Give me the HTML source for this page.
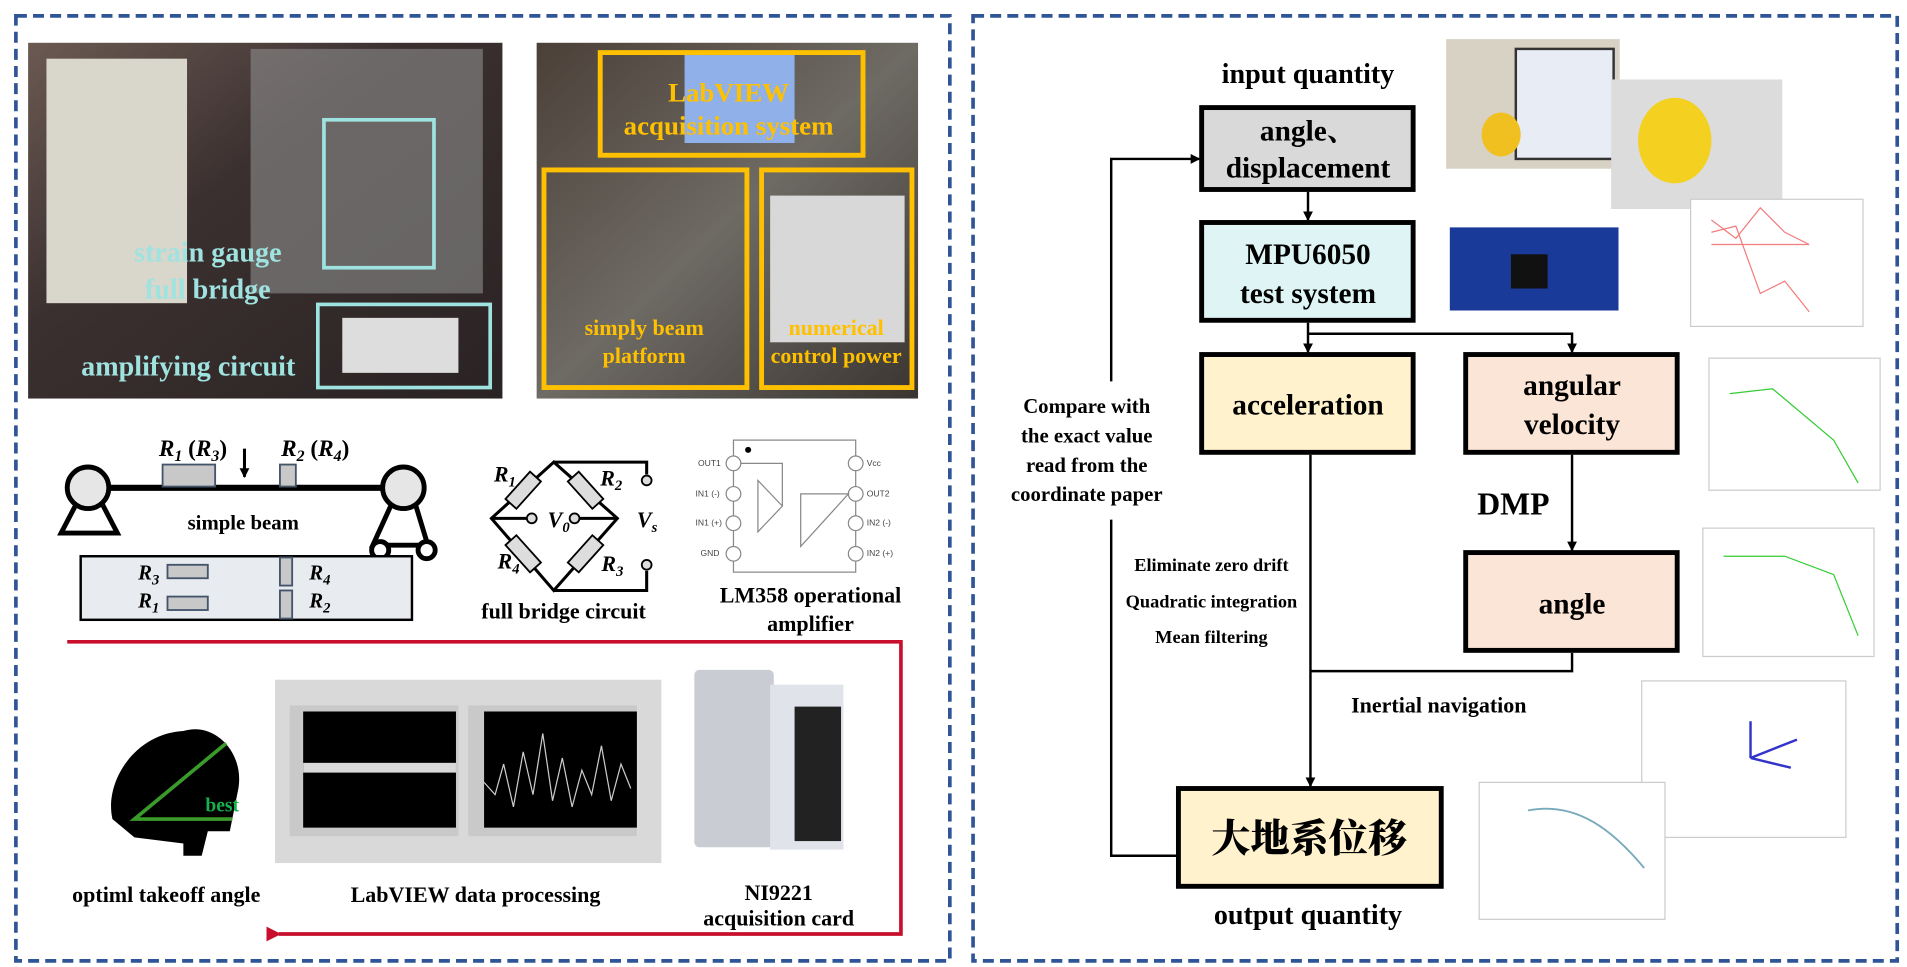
<!DOCTYPE html>
<html><head><meta charset="utf-8"><style>
html,body{margin:0;padding:0;background:#fff;overflow:hidden}
svg{display:block}
text{font-family:"Liberation Serif","Noto Serif CJK SC",serif;font-weight:bold}
</style></head><body>
<svg width="1907" height="967" viewBox="0 0 1560 791" preserveAspectRatio="none" xmlns="http://www.w3.org/2000/svg">
<defs>
<marker id="ar" markerWidth="8" markerHeight="8" refX="7" refY="4" orient="auto" markerUnits="userSpaceOnUse"><path d="M0,0 L8,4 L0,8 z" fill="#000"/></marker>
<marker id="rr" markerWidth="12" markerHeight="12" refX="2" refY="6" orient="auto" markerUnits="userSpaceOnUse"><path d="M12,0 L0,6 L12,12 z" fill="#c8102e"/></marker>
<linearGradient id="ph1" x1="0" y1="0" x2="1" y2="1"><stop offset="0" stop-color="#6b5a52"/><stop offset=".4" stop-color="#3b3030"/><stop offset="1" stop-color="#2a2323"/></linearGradient>
<linearGradient id="ph2" x1="0" y1="0" x2="1" y2="1"><stop offset="0" stop-color="#4b4038"/><stop offset=".5" stop-color="#6e6a64"/><stop offset="1" stop-color="#3a3530"/></linearGradient>
</defs>
<rect x="13" y="13" width="764" height="773" fill="none" stroke="#2f5597" stroke-width="3" stroke-dasharray="9,5"/>
<rect x="796" y="13" width="756" height="773" fill="none" stroke="#2f5597" stroke-width="3" stroke-dasharray="9,5"/>

<rect x="23" y="35" width="388" height="291" fill="url(#ph1)"/>
<rect x="38" y="48" width="115" height="200" fill="#d9d6cc"/>
<rect x="205" y="40" width="190" height="200" fill="#8e8e8e" opacity=".6"/>
<rect x="265" y="98" width="90" height="121" fill="none" stroke="#9fe3e0" stroke-width="3"/>
<rect x="260" y="249" width="141" height="68" fill="none" stroke="#9fe3e0" stroke-width="3"/>
<rect x="280" y="260" width="95" height="45" fill="#ddd"/>
<text x="170" y="214" font-size="23" fill="#9fe3e0" text-anchor="middle">strain gauge</text>
<text x="170" y="244" font-size="23" fill="#9fe3e0" text-anchor="middle">full bridge</text>
<text x="154" y="307" font-size="23" fill="#9fe3e0" text-anchor="middle">amplifying circuit</text>
<rect x="439" y="35" width="312" height="291" fill="url(#ph2)"/>
<rect x="560" y="42" width="90" height="75" fill="#8fb0e8"/>
<rect x="630" y="160" width="110" height="120" fill="#d8d8d8"/>
<rect x="491" y="43" width="215" height="84" fill="none" stroke="#ffc000" stroke-width="4"/>
<rect x="445" y="139" width="166" height="178" fill="none" stroke="#ffc000" stroke-width="4"/>
<rect x="623" y="139" width="123" height="178" fill="none" stroke="#ffc000" stroke-width="4"/>
<text x="596" y="83" font-size="22" fill="#ffc000" text-anchor="middle">LabVIEW</text>
<text x="596" y="110" font-size="22" fill="#ffc000" text-anchor="middle">acquisition system</text>
<text x="527" y="274" font-size="18" fill="#ffc000" text-anchor="middle">simply beam</text>
<text x="527" y="297" font-size="18" fill="#ffc000" text-anchor="middle">platform</text>
<text x="684" y="274" font-size="18" fill="#ffc000" text-anchor="middle">numerical</text>
<text x="684" y="297" font-size="18" fill="#ffc000" text-anchor="middle">control power</text>

<line x1="72" y1="399" x2="330" y2="399" stroke="#000" stroke-width="5"/>
<circle cx="72" cy="399" r="17" fill="#e6e6e6" stroke="#000" stroke-width="4"/>
<path d="M62,413 L50,436 L96,436 L84,413" fill="none" stroke="#000" stroke-width="4"/>
<circle cx="330" cy="399" r="17" fill="#e6e6e6" stroke="#000" stroke-width="4"/>
<path d="M320,413 L305,446 L350,446 L340,413" fill="none" stroke="#000" stroke-width="4"/>
<circle cx="311" cy="450" r="7" fill="#fff" stroke="#000" stroke-width="4"/>
<circle cx="349" cy="450" r="7" fill="#fff" stroke="#000" stroke-width="4"/>
<rect x="133" y="380" width="43" height="18" fill="#c8c8c8" stroke="#44546a" stroke-width="1.5"/>
<rect x="229" y="380" width="13" height="18" fill="#c8c8c8" stroke="#44546a" stroke-width="1.5"/>
<line x1="200" y1="367" x2="200" y2="390" stroke="#000" stroke-width="2.5" marker-end="url(#ar)"/>
<text x="130" y="373" font-size="19" font-style="italic">R<tspan font-size="13" dy="4">1</tspan><tspan dy="-4" font-style="normal"> (</tspan>R<tspan font-size="13" dy="4">3</tspan><tspan dy="-4" font-style="normal">)</tspan></text>
<text x="230" y="373" font-size="19" font-style="italic">R<tspan font-size="13" dy="4">2</tspan><tspan dy="-4" font-style="normal">  (</tspan>R<tspan font-size="13" dy="4">4</tspan><tspan dy="-4" font-style="normal">)</tspan></text>
<text x="199" y="433" font-size="17" text-anchor="middle">simple beam</text>
<rect x="66" y="455" width="271" height="52" fill="#e8ebf0" stroke="#000" stroke-width="2"/>
<rect x="137" y="462" width="33" height="11" fill="#c8c8c8" stroke="#44546a" stroke-width="1.5"/>
<rect x="137" y="488" width="33" height="11" fill="#c8c8c8" stroke="#44546a" stroke-width="1.5"/>
<rect x="229" y="456" width="10" height="23" fill="#c8c8c8" stroke="#44546a" stroke-width="1.5"/>
<rect x="229" y="483" width="10" height="23" fill="#c8c8c8" stroke="#44546a" stroke-width="1.5"/>
<text x="113" y="474" font-size="17" font-style="italic">R<tspan font-size="12" dy="4">3</tspan></text>
<text x="113" y="497" font-size="17" font-style="italic">R<tspan font-size="12" dy="4">1</tspan></text>
<text x="253" y="474" font-size="17" font-style="italic">R<tspan font-size="12" dy="4">4</tspan></text>
<text x="253" y="497" font-size="17" font-style="italic">R<tspan font-size="12" dy="4">2</tspan></text>

<path d="M453,378 L402,424 L453,483 L505,424 Z" fill="none" stroke="#000" stroke-width="2.5"/>
<path d="M453,378 L529,378 L529,388 M453,483 L529,483 L529,467" fill="none" stroke="#000" stroke-width="2.5"/>
<circle cx="529" cy="393" r="4" fill="#ddd" stroke="#000" stroke-width="1.5"/>
<circle cx="529" cy="462" r="4" fill="#ddd" stroke="#000" stroke-width="1.5"/>
<line x1="402" y1="424" x2="432" y2="424" stroke="#000" stroke-width="2.5"/><circle cx="435" cy="424" r="4" fill="#ddd" stroke="#000" stroke-width="1.5"/>
<line x1="473" y1="424" x2="505" y2="424" stroke="#000" stroke-width="2.5"/><circle cx="470" cy="424" r="4" fill="#ddd" stroke="#000" stroke-width="1.5"/>
<g fill="#ddd" stroke="#000" stroke-width="1.5">
<rect x="-6" y="-15" width="12" height="30" transform="translate(428,401) rotate(42)"/>
<rect x="-6" y="-15" width="12" height="30" transform="translate(479,401) rotate(-42)"/>
<rect x="-6" y="-15" width="12" height="30" transform="translate(428,453) rotate(-42)"/>
<rect x="-6" y="-15" width="12" height="30" transform="translate(479,453) rotate(42)"/>
</g>
<text x="404" y="394" font-size="18" font-style="italic">R<tspan font-size="12" dy="4">1</tspan></text>
<text x="491" y="397" font-size="18" font-style="italic">R<tspan font-size="12" dy="4">2</tspan></text>
<text x="407" y="465" font-size="18" font-style="italic">R<tspan font-size="12" dy="4">4</tspan></text>
<text x="492" y="467" font-size="18" font-style="italic">R<tspan font-size="12" dy="4">3</tspan></text>
<text x="448" y="431" font-size="18" font-style="italic">V<tspan font-size="12" dy="4">0</tspan></text>
<text x="521" y="431" font-size="18" font-style="italic">V<tspan font-size="12" dy="4">s</tspan></text>
<text x="461" y="506" font-size="18" text-anchor="middle">full bridge circuit</text>

<rect x="600" y="360" width="100" height="108" fill="#fff" stroke="#888" stroke-width="1"/>
<circle cx="612" cy="368" r="2.5" fill="#000"/>
<g font-size="7" fill="#444">
<text x="571" y="381" style="font-family:'Liberation Sans';font-weight:normal">OUT1</text>
<text x="569" y="406" style="font-family:'Liberation Sans';font-weight:normal">IN1 (-)</text>
<text x="569" y="430" style="font-family:'Liberation Sans';font-weight:normal">IN1 (+)</text>
<text x="573" y="455" style="font-family:'Liberation Sans';font-weight:normal">GND</text>
<text x="709" y="381" style="font-family:'Liberation Sans';font-weight:normal">Vcc</text>
<text x="709" y="406" style="font-family:'Liberation Sans';font-weight:normal">OUT2</text>
<text x="709" y="430" style="font-family:'Liberation Sans';font-weight:normal">IN2 (-)</text>
<text x="709" y="455" style="font-family:'Liberation Sans';font-weight:normal">IN2 (+)</text>
</g>
<g fill="#fff" stroke="#888" stroke-width="1">
<circle cx="600" cy="379" r="6"/><circle cx="600" cy="404" r="6"/><circle cx="600" cy="428" r="6"/><circle cx="600" cy="453" r="6"/>
<circle cx="700" cy="379" r="6"/><circle cx="700" cy="404" r="6"/><circle cx="700" cy="428" r="6"/><circle cx="700" cy="453" r="6"/>
</g>
<path d="M606,379 L640,379 L640,414 M620,393 L620,435 L640,414 Z M694,404 L655,404 L655,447 L675,425 Z" fill="none" stroke="#888" stroke-width="1"/>
<text x="663" y="493" font-size="18" text-anchor="middle">LM358 operational</text>
<text x="663" y="516" font-size="18" text-anchor="middle">amplifier</text>

<path d="M55,525 L737,525 L737,764 L228,764" fill="none" stroke="#c8102e" stroke-width="3" marker-end="url(#rr)"/>

<path d="M150,598 C175,590 200,615 195,645 L188,680 L170,680 L165,700 L150,700 L150,690 L110,685 L92,670 C85,640 110,600 150,598 Z" fill="#000"/>
<path d="M185,608 L110,670 L190,670" fill="none" stroke="#3a9a2a" stroke-width="3"/>
<text x="168" y="664" font-size="16" fill="#18b04a">best</text>
<text x="136" y="738" font-size="18" text-anchor="middle">optiml takeoff angle</text>
<rect x="225" y="556" width="316" height="150" fill="#d9d9d9"/>
<rect x="237" y="577" width="138" height="107" fill="#c9c9c9"/>
<rect x="383" y="577" width="138" height="107" fill="#c9c9c9"/>
<rect x="248" y="582" width="125" height="95" fill="#000"/>
<rect x="396" y="582" width="125" height="95" fill="#000"/>
<rect x="248" y="624" width="125" height="8" fill="#fff" opacity=".85"/>
<path d="M396,640 L405,650 L412,625 L420,660 L428,615 L436,650 L444,600 L452,655 L460,620 L468,660 L476,630 L484,650 L492,610 L500,655 L508,625 L516,645" fill="none" stroke="#ccc" stroke-width="1"/>
<text x="389" y="738" font-size="18" text-anchor="middle">LabVIEW data processing</text>
<rect x="568" y="548" width="65" height="145" fill="#c9ccd2" rx="4"/>
<rect x="630" y="560" width="60" height="135" fill="#e0e4ea"/>
<rect x="650" y="578" width="38" height="110" fill="#222"/>
<text x="637" y="736" font-size="18" text-anchor="middle">NI9221</text>
<text x="637" y="757" font-size="18" text-anchor="middle">acquisition card</text>

<text x="1070" y="68" font-size="23" text-anchor="middle">input quantity</text>
<rect x="983" y="88" width="173" height="67" fill="#d9d9d9" stroke="#000" stroke-width="4"/>
<text x="1070" y="115" font-size="24" text-anchor="middle">angle、</text>
<text x="1070" y="145" font-size="24" text-anchor="middle">displacement</text>
<rect x="983" y="182" width="173" height="80" fill="#dff5f5" stroke="#000" stroke-width="4"/>
<text x="1070" y="216" font-size="24" text-anchor="middle">MPU6050</text>
<text x="1070" y="248" font-size="24" text-anchor="middle">test system</text>
<rect x="983" y="290" width="173" height="80" fill="#fff2cc" stroke="#000" stroke-width="4"/>
<text x="1070" y="339" font-size="24" text-anchor="middle">acceleration</text>
<rect x="1199" y="290" width="173" height="80" fill="#fbe5d6" stroke="#000" stroke-width="4"/>
<text x="1286" y="323" font-size="24" text-anchor="middle">angular</text>
<text x="1286" y="355" font-size="24" text-anchor="middle">velocity</text>
<text x="1238" y="421" font-size="26" text-anchor="middle">DMP</text>
<rect x="1199" y="452" width="173" height="80" fill="#fbe5d6" stroke="#000" stroke-width="4"/>
<text x="1286" y="502" font-size="24" text-anchor="middle">angle</text>
<rect x="964" y="645" width="215" height="80" fill="#fff2cc" stroke="#000" stroke-width="4"/>
<text x="1071" y="697" font-size="32" text-anchor="middle" style="font-family:'Noto Serif CJK SC','Noto Sans CJK SC',serif;font-weight:900">大地系位移</text>
<text x="1070" y="756" font-size="23" text-anchor="middle">output quantity</text>

<g stroke="#000" stroke-width="2" fill="none">
<line x1="1070" y1="157" x2="1070" y2="180" marker-end="url(#ar)"/>
<line x1="1070" y1="264" x2="1070" y2="288" marker-end="url(#ar)"/>
<path d="M1070,273 L1286,273 L1286,288" marker-end="url(#ar)"/>
<line x1="1286" y1="372" x2="1286" y2="450" marker-end="url(#ar)"/>
<path d="M1286,534 L1286,549 L1072,549"/>
<line x1="1072" y1="372" x2="1072" y2="643" marker-end="url(#ar)"/>
<path d="M962,700 L909,700 L909,425"/>
<path d="M909,312 L909,130 L981,130" marker-end="url(#ar)"/>
</g>
<g font-size="17" text-anchor="middle">
<text x="889" y="338">Compare with</text>
<text x="889" y="362">the exact value</text>
<text x="889" y="386">read from the</text>
<text x="889" y="410">coordinate paper</text>
</g>
<g font-size="15" text-anchor="middle">
<text x="991" y="467">Eliminate zero drift</text>
<text x="991" y="497">Quadratic integration</text>
<text x="991" y="526">Mean filtering</text>
</g>
<text x="1177" y="583" font-size="18" text-anchor="middle">Inertial navigation</text>

<rect x="1183" y="32" width="142" height="106" fill="#d8d2c4"/>
<rect x="1240" y="40" width="80" height="90" fill="#e8ecf4" stroke="#333" stroke-width="2"/>
<rect x="1318" y="65" width="140" height="106" fill="#dcdcdc"/>
<ellipse cx="1370" cy="115" rx="30" ry="35" fill="#f4d020"/>
<ellipse cx="1228" cy="110" rx="16" ry="18" fill="#f0c020"/>
<rect x="1186" y="186" width="138" height="68" fill="#1a3a9a"/>
<rect x="1236" y="208" width="30" height="28" fill="#111"/>
<g fill="#fff" stroke="#ccc" stroke-width="1">
<rect x="1383" y="163" width="141" height="104"/>
<rect x="1398" y="293" width="140" height="108"/>
<rect x="1393" y="432" width="140" height="105"/>
<rect x="1343" y="557" width="167" height="128"/>
<rect x="1210" y="640" width="152" height="112"/>
</g>
<path d="M1400,180 L1420,195 L1440,170 L1460,190 L1480,200 M1400,190 L1420,185 L1440,240 L1460,230 L1480,255 M1400,200 L1480,200" fill="none" stroke="#e44" stroke-width="1" opacity=".7"/>
<path d="M1415,322 L1450,318 L1500,360 L1520,395" fill="none" stroke="#3c3" stroke-width="1"/>
<path d="M1410,455 L1460,455 L1500,470 L1520,520" fill="none" stroke="#3c3" stroke-width="1"/>
<path d="M1432,620 L1432,590 M1432,620 L1470,605 M1432,620 L1465,628" stroke="#33c" stroke-width="2" fill="none"/>
<path d="M1250,663 C1290,655 1320,680 1345,710" fill="none" stroke="#7ab" stroke-width="1.5"/>
</svg>
</body></html>
